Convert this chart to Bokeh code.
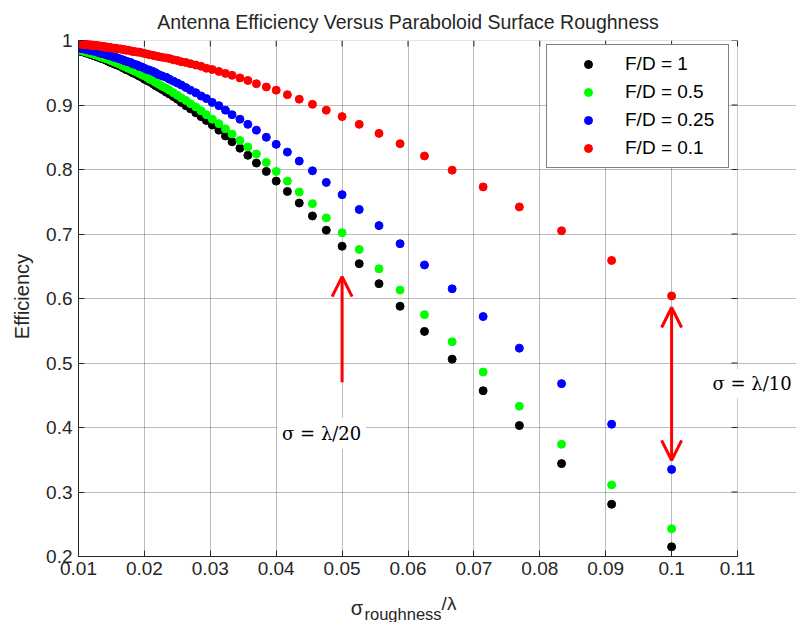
import math
from bokeh.plotting import figure
from bokeh.models import (Range1d, FixedTicker, Label, Arrow, OpenHead,
                          Legend, LegendItem, ColumnDataSource)
from bokeh.embed import file_html
from bokeh.resources import INLINE

# ---------------- data ----------------
sigma_over_lambda = [
    0.1, 0.0909, 0.0833, 0.0769, 0.0714, 0.0667, 0.0625, 0.0588, 0.0556, 0.0526,
    0.05, 0.0476, 0.0455, 0.0435, 0.0417, 0.04, 0.0385, 0.037, 0.0357, 0.0345,
    0.0333, 0.0323, 0.0313, 0.0303, 0.0294, 0.0286, 0.0278, 0.027, 0.0263, 0.0256,
    0.025, 0.0244, 0.0238, 0.0233, 0.0227, 0.0222, 0.0217, 0.0213, 0.0208, 0.0204,
    0.02, 0.0196, 0.0192, 0.0189, 0.0185, 0.0182, 0.0179, 0.0175, 0.0172, 0.0169,
    0.0167, 0.0164, 0.0161, 0.0159, 0.0156, 0.0154, 0.0152, 0.0149, 0.0147, 0.0145,
    0.0143, 0.0141, 0.0139, 0.0137, 0.0135, 0.0133, 0.0132, 0.013, 0.0128, 0.0127,
    0.0125, 0.0123, 0.0122, 0.012, 0.0119, 0.0118, 0.0116, 0.0115, 0.0114, 0.0112,
    0.0111, 0.011, 0.0109, 0.0108, 0.0106, 0.0105, 0.0104, 0.0103, 0.0102, 0.0101,
    0.01]

eff_fd_1 = [
    0.215, 0.281, 0.344, 0.403, 0.457, 0.506, 0.549, 0.588, 0.623, 0.654,
    0.681, 0.706, 0.728, 0.748, 0.766, 0.782, 0.797, 0.810, 0.822, 0.833,
    0.843, 0.852, 0.861, 0.869, 0.876, 0.882, 0.888, 0.894, 0.899, 0.904,
    0.909, 0.913, 0.917, 0.920, 0.924, 0.927, 0.930, 0.933, 0.936, 0.938,
    0.940, 0.943, 0.945, 0.947, 0.949, 0.950, 0.952, 0.954, 0.955, 0.957,
    0.958, 0.960, 0.961, 0.962, 0.963, 0.964, 0.965, 0.966, 0.967, 0.968,
    0.969, 0.970, 0.971, 0.972, 0.972, 0.973, 0.974, 0.974, 0.975, 0.976,
    0.976, 0.977, 0.977, 0.978, 0.978, 0.979, 0.980, 0.980, 0.980, 0.981,
    0.981, 0.982, 0.982, 0.982, 0.983, 0.983, 0.983, 0.984, 0.984, 0.984,
    0.985]

eff_fd_05 = [
    0.243, 0.311, 0.374, 0.433, 0.486, 0.533, 0.575, 0.613, 0.646, 0.676,
    0.702, 0.725, 0.747, 0.765, 0.782, 0.797, 0.811, 0.824, 0.835, 0.845,
    0.855, 0.863, 0.871, 0.878, 0.885, 0.891, 0.897, 0.902, 0.907, 0.911,
    0.915, 0.919, 0.923, 0.926, 0.929, 0.932, 0.935, 0.938, 0.940, 0.943,
    0.945, 0.947, 0.949, 0.951, 0.953, 0.954, 0.956, 0.957, 0.959, 0.960,
    0.961, 0.963, 0.964, 0.965, 0.966, 0.967, 0.968, 0.969, 0.970, 0.971,
    0.972, 0.972, 0.973, 0.974, 0.974, 0.975, 0.976, 0.976, 0.977, 0.978,
    0.978, 0.979, 0.979, 0.980, 0.980, 0.981, 0.981, 0.981, 0.982, 0.982,
    0.983, 0.983, 0.983, 0.984, 0.984, 0.984, 0.985, 0.985, 0.985, 0.986,
    0.986]

eff_fd_025 = [
    0.335, 0.405, 0.468, 0.523, 0.572, 0.615, 0.652, 0.685, 0.713, 0.738,
    0.761, 0.780, 0.798, 0.813, 0.827, 0.839, 0.850, 0.861, 0.870, 0.878,
    0.885, 0.892, 0.899, 0.904, 0.910, 0.914, 0.919, 0.923, 0.927, 0.931,
    0.934, 0.937, 0.940, 0.943, 0.945, 0.947, 0.950, 0.952, 0.954, 0.955,
    0.957, 0.959, 0.960, 0.962, 0.963, 0.964, 0.966, 0.967, 0.968, 0.969,
    0.970, 0.971, 0.972, 0.973, 0.974, 0.974, 0.975, 0.976, 0.977, 0.977,
    0.978, 0.979, 0.979, 0.980, 0.980, 0.981, 0.981, 0.982, 0.982, 0.983,
    0.983, 0.984, 0.984, 0.984, 0.985, 0.985, 0.985, 0.986, 0.986, 0.986,
    0.987, 0.987, 0.987, 0.987, 0.988, 0.988, 0.988, 0.988, 0.989, 0.989,
    0.989]

eff_fd_01 = [
    0.604, 0.659, 0.705, 0.742, 0.773, 0.799, 0.821, 0.840, 0.856, 0.870,
    0.882, 0.892, 0.901, 0.909, 0.916, 0.923, 0.928, 0.933, 0.938, 0.942,
    0.946, 0.949, 0.952, 0.955, 0.957, 0.960, 0.962, 0.964, 0.966, 0.967,
    0.969, 0.970, 0.972, 0.973, 0.974, 0.975, 0.976, 0.977, 0.978, 0.979,
    0.980, 0.981, 0.982, 0.982, 0.983, 0.983, 0.984, 0.985, 0.985, 0.986,
    0.986, 0.987, 0.987, 0.987, 0.988, 0.988, 0.988, 0.989, 0.989, 0.989,
    0.990, 0.990, 0.990, 0.991, 0.991, 0.991, 0.991, 0.992, 0.992, 0.992,
    0.992, 0.992, 0.993, 0.993, 0.993, 0.993, 0.993, 0.993, 0.994, 0.994,
    0.994, 0.994, 0.994, 0.994, 0.994, 0.994, 0.995, 0.995, 0.995, 0.995,
    0.995]

series_labels = ["F/D = 1", "F/D = 0.5", "F/D = 0.25", "F/D = 0.1"]
series_colors = ["#000000", "#00ff00", "#0000ff", "#ff0000"]

x_ticks = [0.01, 0.02, 0.03, 0.04, 0.05, 0.06, 0.07, 0.08, 0.09, 0.1, 0.11]
x_tick_labels = ["0.01", "0.02", "0.03", "0.04", "0.05", "0.06", "0.07", "0.08", "0.09", "0.1", "0.11"]
y_ticks = [0.2, 0.3, 0.4, 0.5, 0.6, 0.7, 0.8, 0.9, 1.0]
y_tick_labels = ["0.2", "0.3", "0.4", "0.5", "0.6", "0.7", "0.8", "0.9", "1"]

# annotation arrows (data coordinates): x, y_start, y_end
arrow_up = [0.05, 0.470, 0.634]
arrow_double = [0.1, 0.349, 0.586]

# ---------------- layout ----------------
FONT = "Liberation Sans"
TXT = "#262626"
W, H = 796, 622
FL, FR, FT, FB = 78, 737, 40, 556          # visible axes box in pixels
x0, x1 = x_ticks[0], x_ticks[-1]
y0, y1 = y_ticks[0], y_ticks[-1]
# the plotting frame runs on to the right canvas edge so the right-hand note is not clipped
x_end = x1 + (W - FR) * (x1 - x0) / (FR - FL)

p = figure(width=W, height=H, output_backend="svg", toolbar_location=None,
           x_range=Range1d(x0, x_end), y_range=Range1d(y0, y1),
           min_border_left=FL, min_border_right=0, min_border_top=FT,
           min_border_bottom=H - FB,
           background_fill_color="white", border_fill_color="white")
p.outline_line_color = None

# main axes
for ax, ticks, labels in ((p.xaxis[0], x_ticks, x_tick_labels), (p.yaxis[0], y_ticks, y_tick_labels)):
    ax.ticker = FixedTicker(ticks=ticks)
    ax.major_label_overrides = dict(zip(ticks, labels))
    ax.major_tick_in = 6
    ax.major_tick_out = 0
    ax.minor_tick_line_color = None
    ax.axis_line_color = TXT
    ax.major_tick_line_color = TXT
    ax.major_label_text_font = FONT
    ax.major_label_text_font_size = "19px"
    ax.major_label_text_color = TXT
p.xaxis.bounds = (x0, x1)
p.xaxis.major_label_standoff = 5
p.yaxis.major_label_standoff = 6

# grid
p.xgrid[0].ticker = FixedTicker(ticks=x_ticks)
p.ygrid[0].ticker = FixedTicker(ticks=y_ticks)
p.ygrid[0].bounds = (x0, x1)
for g in (p.xgrid[0], p.ygrid[0]):
    g.grid_line_color = "#606060"
    g.grid_line_dash = "1 1"
    g.grid_line_alpha = 0.85

# light top / right box edges with inward ticks
p.segment(x0=[x0, x1], y0=[y1, y0], x1=[x1, x1], y1=[y1, y1], line_color="#c8c8c8", line_width=1)
p.ray(x=x_ticks, y=[y1] * len(x_ticks), length=6, length_units="screen",
      angle=-math.pi / 2, line_color=TXT, line_width=1)
p.ray(x=[x1] * len(y_ticks), y=y_ticks, length=6, length_units="screen",
      angle=math.pi, line_color=TXT, line_width=1)

# data
series = [eff_fd_1, eff_fd_05, eff_fd_025, eff_fd_01]
items = []
for vals, lab, col in zip(series, series_labels, series_colors):
    src = ColumnDataSource(dict(x=sigma_over_lambda, y=vals))
    r = p.scatter("x", "y", source=src, size=8, marker="circle",
                  fill_color=col, line_color=col)
    items.append(LegendItem(label=lab, renderers=[r]))

legend = Legend(items=items, location=(546 - FL, FB - 168),
                label_text_font=FONT, label_text_font_size="19px", label_text_color="#000000",
                glyph_width=66, glyph_height=20, label_height=20, label_width=95,
                label_standoff=4, spacing=6, padding=8,
                border_line_color="#000000", border_line_width=1.2,
                background_fill_color="white", background_fill_alpha=1.0)
p.add_layout(legend, "center")

# arrows
p.add_layout(Arrow(end=OpenHead(size=20, line_color="#ff0000", line_width=3),
                   x_start=arrow_up[0], y_start=arrow_up[1], x_end=arrow_up[0], y_end=arrow_up[2],
                   line_color="#ff0000", line_width=3))
p.add_layout(Arrow(start=OpenHead(size=20, line_color="#ff0000", line_width=3),
                   end=OpenHead(size=20, line_color="#ff0000", line_width=3),
                   x_start=arrow_double[0], y_start=arrow_double[1],
                   x_end=arrow_double[0], y_end=arrow_double[2],
                   line_color="#ff0000", line_width=3))

# sigma annotations
p.add_layout(Label(x=0.0469, y=0.391, text="σ = λ/20", text_font="DejaVu Serif",
                   text_font_size="18px", text_color="#000000", text_align="center",
                   text_baseline="middle", background_fill_color="white", padding=5))
p.add_layout(Label(x=0.1056, y=0.468, text="σ = λ/10", text_font="DejaVu Serif",
                   text_font_size="18px", text_color="#000000", text_align="left",
                   text_baseline="middle", background_fill_color="white", padding=4))

# title (in the top panel so it is not clipped)
p.add_layout(Label(x=0.06, y=1.028, text="Antenna Efficiency Versus Paraboloid Surface Roughness",
                   text_font=FONT, text_font_size="19.5px", text_color=TXT, text_align="center",
                   text_baseline="alphabetic"), "above")

# y-axis label
p.add_layout(Label(x=0.00143, y=0.603, text="Efficiency", text_font=FONT, text_font_size="20px",
                   text_color=TXT, text_align="center", text_baseline="middle",
                   angle=math.pi / 2), "left")

# x-axis label: sigma_roughness / lambda (parts spread over side panels so none is clipped)
p.add_layout(Label(x=0.0513, y=0.1194, text="σ", text_font=FONT, text_font_size="20px",
                   text_color=TXT, text_align="left", text_baseline="alphabetic"), "left")
p.add_layout(Label(x=0.0534, y=0.1101, text="roughness", text_font=FONT, text_font_size="16.5px",
                   text_color=TXT, text_align="left", text_baseline="alphabetic"), "above")
p.add_layout(Label(x=0.0651, y=0.1271, text="/λ", text_font=FONT, text_font_size="19px",
                   text_color=TXT, text_align="left", text_baseline="alphabetic"), "below")

open("out.html", "w").write(file_html(p, INLINE))
